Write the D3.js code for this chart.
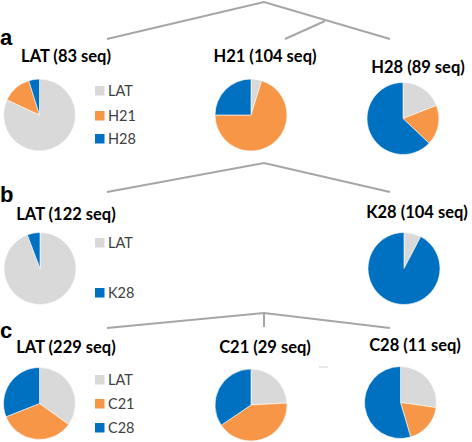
<!DOCTYPE html>
<html><head><meta charset="utf-8">
<script src="https://cdn.jsdelivr.net/npm/d3@7"></script>
<style>body{margin:0;background:#fff}svg{display:block}</style>
</head><body>
<svg id="c" width="472" height="442"></svg>
<script>
// ---- data ----
const categoriesA = ["LAT", "H21", "H28"];
const categoriesB = ["LAT", "K28"];
const categoriesC = ["LAT", "C21", "C28"];
const titlesA = ["LAT (83 seq)", "H21 (104 seq)", "H28 (89 seq)"];
const titlesB = ["LAT (122 seq)", "K28 (104 seq)"];
const titlesC = ["LAT (229 seq)", "C21 (29 seq)", "C28 (11 seq)"];
const valuesA = [[68, 11, 4], [5, 73, 26], [17, 16, 56]];
const valuesB = [[115, 7], [8, 96]];
const valuesC = [[80, 78, 71], [7, 12, 10], [3, 2, 6]];
const panelLabels = ["a", "b", "c"];

// ---- layout ----
const svg = d3.select("#c");
const R = 36;
const colorsA = ["#d9d9d9", "#f79646", "#0070c0"];
const colorsB = ["#d9d9d9", "#0070c0"];
const lineColor = "#a6a6a6";
const titleFont = "Lato, 'Open Sans', sans-serif";

const pie = d3.pie().sort(null).startAngle(0).endAngle(2 * Math.PI);
const arc = d3.arc().innerRadius(0).outerRadius(R);

const panels = [
  { label: panelLabels[0], labelY: 45, cats: categoriesA, colors: colorsA, titles: titlesA, values: valuesA,
    pies: [[39.5, 115], [251, 115], [403, 118.5]],
    titlePos: [[66, 62], [265, 62], [418, 73]],
    legendY: [86, 111, 134],
    tree: [[[107, 39], [264, 2], [390, 39]], [[325, 21], [285, 39]]] },
  { label: panelLabels[1], labelY: 202, cats: categoriesB, colors: colorsB, titles: titlesB, values: valuesB,
    pies: [[40, 268.5], [404, 268.5]],
    titlePos: [[66, 220], [417, 218]],
    legendY: [238, 288],
    tree: [[[107, 192], [264, 163], [390, 192]]] },
  { label: panelLabels[2], labelY: 338, cats: categoriesC, colors: colorsA, titles: titlesC, values: valuesC,
    pies: [[39.5, 403.5], [251, 405], [400.5, 402.5]],
    titlePos: [[66, 353], [265, 353], [415, 351]],
    legendY: [375, 399, 423],
    tree: [[[107, 328], [264, 313], [390, 328]], [[264, 313], [264, 327]]] }
];

const line = d3.line();

panels.forEach(p => {
  p.tree.forEach(pts => {
    svg.append("path").attr("d", line(pts)).attr("fill", "none")
      .attr("stroke", lineColor).attr("stroke-width", 2);
  });
  svg.append("text").attr("x", 0).attr("y", p.labelY).text(p.label)
    .attr("font-family", "'Liberation Sans', Arial, sans-serif").attr("font-weight", "bold")
    .attr("font-size", 22).attr("fill", "#000");
  p.values.forEach((vals, i) => {
    const [cx, cy] = p.pies[i];
    const g = svg.append("g").attr("transform", `translate(${cx},${cy})`);
    g.selectAll("path").data(pie(vals)).join("path")
      .attr("d", arc).attr("fill", (d, j) => p.colors[j])
      .attr("stroke", "#fff").attr("stroke-width", 0.6);
    const [tx, ty] = p.titlePos[i];
    svg.append("text").attr("x", tx).attr("y", ty).attr("text-anchor", "middle")
      .text(p.titles[i]).attr("font-family", titleFont).attr("font-weight", "bold")
      .attr("font-size", 16.5).attr("fill", "#000");
  });
  p.cats.forEach((c, j) => {
    const y = p.legendY[j];
    svg.append("rect").attr("x", 95).attr("y", y).attr("width", 9.5).attr("height", 9.5)
      .attr("fill", p.colors[j]);
    svg.append("text").attr("x", 108).attr("y", y + 9.5).text(c)
      .attr("font-family", titleFont).attr("font-size", 14.5).attr("fill", "#404040");
  });
});

svg.append("line").attr("x1", 319).attr("x2", 328).attr("y1", 367).attr("y2", 367)
  .attr("stroke", "#d0d0d0").attr("stroke-width", 1);
</script>
</body></html>
